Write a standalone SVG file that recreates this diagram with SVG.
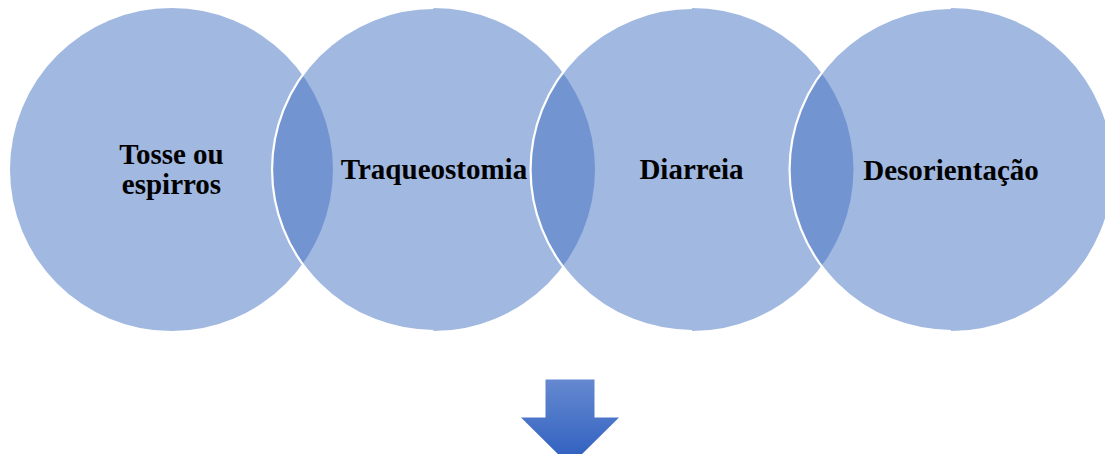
<svg xmlns="http://www.w3.org/2000/svg" width="1105" height="454" viewBox="0 0 1105 454">
  <style>
    .disc { fill: #4472C4; fill-opacity: 0.5; }
    .rim { fill: none; stroke: #FFFFFF; stroke-width: 2.2; }
    .label { font-family: "Liberation Serif", "Times New Roman", serif; font-weight: bold; font-size: 29px; fill: #000000; text-anchor: middle; }
  </style>
  <defs>
    <linearGradient id="arrowFill" x1="0" y1="0" x2="0" y2="1">
      <stop offset="0" stop-color="#6589D0"/>
      <stop offset="1" stop-color="#2C5DBF"/>
    </linearGradient>
  </defs>

  <rect width="1105" height="454" fill="#FFFFFF"/>

  <!-- overlapping circles, left to right -->
  <g id="node-tosse">
    <circle class="disc" cx="171.5" cy="169.5" r="161.5"/>
    <text class="label" x="171.5" y="164">Tosse ou</text>
    <text class="label" x="171.5" y="194">espirros</text>
  </g>
  <g id="node-traqueostomia">
    <circle class="disc" cx="433.5" cy="169.5" r="161.5"/>
    <path class="rim" d="M 433.5 8 A 161.5 161.5 0 0 0 433.5 331"/>
    <text class="label" x="434" y="179">Traqueostomia</text>
  </g>
  <g id="node-diarreia">
    <circle class="disc" cx="692" cy="169.5" r="161.5"/>
    <path class="rim" d="M 692 8 A 161.5 161.5 0 0 0 692 331"/>
    <text class="label" x="691.5" y="179">Diarreia</text>
  </g>
  <g id="node-desorientacao">
    <circle class="disc" cx="951" cy="169.5" r="161.5"/>
    <path class="rim" d="M 951 8 A 161.5 161.5 0 0 0 951 331"/>
    <text class="label" x="951" y="180">Desorientação</text>
  </g>

  <!-- downward block arrow -->
  <g id="connectors">
    <path d="M 545.5 379.5 L 594.5 379.5 L 594.5 417.5 L 619 417.5 L 570 466 L 521 417.5 L 545.5 417.5 Z" fill="url(#arrowFill)"/>
  </g>
</svg>
